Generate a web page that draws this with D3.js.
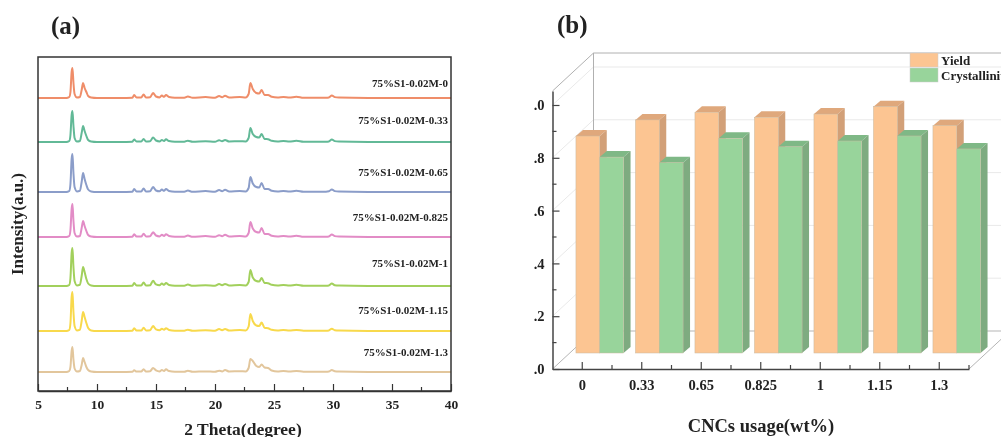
<!DOCTYPE html>
<html lang="en">
  <head>
    <meta charset="UTF-8" />
    <title>XRD and yield</title>
    <script src="https://d3js.org/d3.v7.min.js"></script>
    <style>
      html, body { margin: 0; padding: 0; background: #fff; }
      svg { display: block; filter: blur(0.35px); }
      text { font-family: "Liberation Serif", serif; font-weight: bold; fill: #222; }
    </style>
  </head>
  <body>
    <svg id="svg" width="1001" height="437"></svg>
    <script>
      // panel (a): XRD patterns, one intensity row per sample on a shared 2 theta grid
      const twoTheta = [
        5, 7.4, 7.65, 7.75, 7.85, 7.92, 8, 8.1, 8.3, 8.55,
        8.7, 8.82, 8.95, 9.1, 9.25, 9.5, 10, 12, 13, 13.15,
        13.35, 13.75, 13.95, 14.15, 14.5, 14.75, 15, 15.3, 15.5, 15.68,
        15.85, 16.1, 16.6, 17.4, 17.7, 18.1, 19.2, 20, 20.35, 20.6,
        20.85, 21.2, 22.1, 22.6, 22.85, 23, 23.2, 23.5, 23.75, 23.95,
        24.2, 24.5, 24.8, 25.3, 25.8, 26.3, 26.9, 27.5, 29.4, 29.65,
        29.9, 30.15, 30.5, 33, 40
      ];
      const samples = [
        "75%S1-0.02M-0", "75%S1-0.02M-0.33", "75%S1-0.02M-0.65", "75%S1-0.02M-0.825",
        "75%S1-0.02M-1", "75%S1-0.02M-1.15", "75%S1-0.02M-1.3"
      ];
      const sampleColors = ["#ef8d69", "#62b997", "#8b9dc9", "#e28cc6", "#a2d05c", "#f8d94c", "#e2c69c"];
      // stacking baseline of each pattern
      const baselines = [293, 249, 199, 154, 105, 60, 19];
      // label height above its own baseline
      const labelGaps = [15, 22, 20, 20, 23, 21, 20];

      const xrd0 = [
        0, 0, 1, 6, 26, 30, 16, 4, 0.5, 1,
        8, 15, 10, 6, 2, 0.5, 0, 0, 0.3, 3,
        0.5, 0.5, 3.5, 0.6, 0.8, 5, 1.5, 0.6, 2.5, 1.2,
        3, 1, 0.3, 0.3, 1.5, 0.2, 1, 0.2, 2, 0.8,
        2.2, 0.5, 1, 0.6, 4, 15, 9, 5, 4.5, 8,
        3, 3, 1.2, 0.5, 1, 0.4, 1.3, 0.2, 0.3, 0.6,
        2.5, 0.9, 0.4, 0.1, 0
      ];
      const xrd033 = [
        0, 0, 1, 7, 27, 31, 17, 4, 0.5, 1,
        9, 16, 11, 6, 2, 0.5, 0, 0, 0.3, 2.5,
        0.5, 0.5, 3, 0.6, 0.8, 4.5, 1.5, 0.6, 2, 1,
        2.8, 0.9, 0.3, 0.3, 1.3, 0.2, 0.8, 0.2, 1.8, 0.7,
        2, 0.5, 0.8, 0.6, 4, 14, 8, 5, 4.5, 8,
        3, 2.8, 1.2, 0.5, 0.9, 0.4, 1.2, 0.2, 0.3, 0.6,
        2.5, 0.9, 0.4, 0.1, 0
      ];
      const xrd065 = [
        0, 0, 1, 8, 33, 38, 20, 5, 0.6, 1.2,
        10, 19, 13, 7, 2.5, 0.6, 0, 0, 0.3, 3,
        0.5, 0.5, 3.5, 0.6, 0.8, 5, 1.5, 0.7, 2.5, 1.2,
        3, 1, 0.3, 0.3, 1.4, 0.2, 0.9, 0.2, 2, 0.8,
        2.2, 0.5, 0.9, 0.6, 4, 15, 8.5, 5, 4.5, 9,
        3, 3, 1.2, 0.5, 1, 0.4, 1.2, 0.2, 0.3, 0.7,
        2.6, 0.9, 0.4, 0.1, 0
      ];
      const xrd0825 = [
        0, 0, 1, 7, 28, 33, 17, 4, 0.5, 1,
        9, 16, 11, 6, 2, 0.5, 0, 0, 0.3, 2.8,
        0.5, 0.5, 3.2, 0.6, 0.8, 4.8, 1.5, 0.6, 2.2, 1.1,
        2.8, 1, 0.3, 0.3, 1.4, 0.2, 0.9, 0.2, 1.8, 0.8,
        2.2, 0.5, 1, 0.6, 4, 15, 8.5, 5, 4.5, 9,
        3, 3, 1.2, 0.5, 1, 0.4, 1.3, 0.2, 0.3, 0.6,
        2.5, 0.9, 0.4, 0.1, 0
      ];
      const xrd1 = [
        0, 0, 1, 8, 33, 38, 20, 5, 0.6, 1.2,
        10, 19, 14, 7, 2.5, 0.6, 0, 0, 0.3, 3,
        0.5, 0.5, 3.5, 0.6, 0.8, 5.2, 1.6, 0.7, 2.5, 1.2,
        3, 1, 0.3, 0.3, 1.4, 0.2, 0.8, 0.2, 1.9, 0.8,
        2.1, 0.5, 0.9, 0.6, 4, 16, 8.5, 5, 4.5, 8,
        3, 2.8, 1.2, 0.5, 0.9, 0.4, 1.2, 0.2, 0.3, 0.6,
        2.4, 0.8, 0.4, 0.1, 0
      ];
      const xrd115 = [
        0, 0, 1, 8, 34, 39, 20, 5, 0.6, 1.2,
        10, 19, 14, 8, 3, 0.6, 0, 0, 0.3, 2.8,
        0.5, 0.5, 3.2, 0.6, 0.8, 5, 1.6, 0.7, 2.3, 1.2,
        2.8, 1, 0.3, 0.3, 1.3, 0.2, 0.8, 0.2, 1.9, 0.8,
        2, 0.5, 0.9, 0.6, 4.5, 17, 10, 5.5, 5, 8.5,
        3.2, 2.8, 1.2, 0.5, 0.9, 0.4, 1.1, 0.2, 0.3, 0.6,
        2.3, 0.8, 0.4, 0.1, 0
      ];
      const xrd13 = [
        0, 0, 1, 5, 21, 25, 13, 3.5, 0.5, 1,
        7, 14, 10, 5, 2, 0.5, 0, 0, 0.2, 1.8,
        0.4, 0.5, 2.8, 0.6, 0.8, 4, 1.6, 0.6, 2, 1,
        2.8, 0.9, 0.3, 0.3, 1.2, 0.2, 0.6, 0.2, 1.3, 0.6,
        2, 0.5, 0.8, 0.6, 4, 13, 11, 6, 5, 7.5,
        4.5, 4, 1.5, 0.5, 0.9, 0.4, 1.1, 0.2, 0.3, 0.5,
        2, 0.7, 0.4, 0.1, 0
      ];
      const xrdRows = [xrd0, xrd033, xrd065, xrd0825, xrd1, xrd115, xrd13];
      const thetaTicks = [5, 10, 15, 20, 25, 30, 35, 40];
      const thetaMinor = [7.5, 12.5, 17.5, 22.5, 27.5, 32.5, 37.5];

      // panel (b): yield and crystallinity
      const usage = ["0", "0.33", "0.65", "0.825", "1", "1.15", "1.3"];
      const series = ["Yield", "Crystallinity"];
      const yieldValues = [0.822, 0.883, 0.912, 0.893, 0.905, 0.933, 0.861];
      const crystValues = [0.742, 0.721, 0.813, 0.781, 0.803, 0.822, 0.773];
      const fracTicks = [0, 0.2, 0.4, 0.6, 0.8, 1];
      const fracMinor = [0.1, 0.3, 0.5, 0.7, 0.9];
      // the left edge of the source image cuts the leading digit off
      const fracLabels = [".0", ".2", ".4", ".6", ".8", ".0"];

      const svg = d3.select("#svg");

      /* ---------- (a) ---------- */
      const ax = d3.scaleLinear().domain([5, 40]).range([38, 451]);
      const ay = d3.scaleLinear().domain([0, 334]).range([391, 57]);
      const ga = svg.append("g");

      samples.forEach((name, i) => {
        const line = d3
          .line()
          .x(d => ax(d))
          .y((d, k) => ay(baselines[i] + xrdRows[i][k]))
          .curve(d3.curveMonotoneX);
        ga.append("path")
          .attr("d", line(twoTheta))
          .attr("fill", "none")
          .attr("stroke", sampleColors[i])
          .attr("stroke-width", 2);
        ga.append("text")
          .attr("x", 448)
          .attr("y", ay(baselines[i] + labelGaps[i]))
          .attr("dy", "0.35em")
          .attr("text-anchor", "end")
          .style("font-size", "11px")
          .text(name);
      });

      ga.append("rect")
        .attr("x", 38)
        .attr("y", 57)
        .attr("width", 413)
        .attr("height", 334)
        .attr("fill", "none")
        .attr("stroke", "#333")
        .attr("stroke-width", 1.5);

      const aAxis = ga
        .append("g")
        .attr("transform", "translate(0,391)")
        .call(d3.axisBottom(ax).tickValues(thetaTicks).tickSizeInner(-7).tickSizeOuter(0).tickPadding(8).tickFormat(d3.format("d")));
      aAxis.select(".domain").attr("stroke", "#333").attr("stroke-width", 1.5);
      aAxis.selectAll("line").attr("stroke", "#333").attr("stroke-width", 1.2);
      aAxis.selectAll("text").style("font-size", "13.5px").style("font-family", '"Liberation Serif", serif').attr("fill", "#222");
      ga.selectAll(".minor")
        .data(thetaMinor)
        .enter()
        .append("line")
        .attr("x1", d => ax(d))
        .attr("x2", d => ax(d))
        .attr("y1", 391)
        .attr("y2", 387)
        .attr("stroke", "#333")
        .attr("stroke-width", 1.2);

      svg.append("text").attr("x", 51).attr("y", 34).style("font-size", "25px").text("(a)");
      svg.append("text").attr("x", 243).attr("y", 435).attr("text-anchor", "middle").style("font-size", "17.5px").text("2 Theta(degree)");
      svg.append("text")
        .attr("transform", "translate(23,224) rotate(-90)")
        .attr("text-anchor", "middle")
        .style("font-size", "17px")
        .text("Intensity(a.u.)");

      /* ---------- (b) ---------- */
      const depthX = 41;
      const depthY = 38;
      const barShiftX = 17.5;
      const barShiftY = 16;
      const barDx = 7;
      const barDy = 6;

      const bx = d3.scaleBand().domain(usage).range([552.5, 969]).paddingInner(0.2).paddingOuter(0.1);
      const bInner = d3.scaleBand().domain(series).range([0, bx.bandwidth()]);
      const by = d3.scaleLinear().domain([0, 1.053]).range([369, 91]);
      const gb = svg.append("g");

      // side wall and back wall grid
      gb.selectAll(".wall")
        .data(fracTicks.slice(1))
        .enter()
        .append("path")
        .attr("d", d => `M${bx.range()[0]},${by(d)} L${bx.range()[0] + depthX},${by(d) - depthY} H1001`)
        .attr("fill", "none")
        .attr("stroke", "#e9e9e9")
        .attr("stroke-width", 1);
      gb.append("path")
        .attr("d", `M${bx.range()[0]},${by(0)} L${bx.range()[0] + depthX},${by(0) - depthY} H1001 M${bx.range()[1]},${by(0)} L${bx.range()[1] + depthX},${by(0) - depthY}`)
        .attr("fill", "none")
        .attr("stroke", "#b5b5b5")
        .attr("stroke-width", 1);
      gb.append("path")
        .attr("d", `M${bx.range()[0]},${by.range()[1]} L${bx.range()[0] + depthX},${by.range()[1] - depthY} H1001 M${bx.range()[0] + depthX},${by.range()[1] - depthY} V${by(0) - depthY}`)
        .attr("fill", "none")
        .attr("stroke", "#b0b0b0")
        .attr("stroke-width", 1);

      const faces = {
        Yield: { front: "#fcc592", top: "#dfa87c", side: "#d2a078" },
        Crystallinity: { front: "#98d49b", top: "#7fb886", side: "#7eab80" }
      };
      const valuesBySeries = { Yield: yieldValues, Crystallinity: crystValues };

      usage.forEach((u, i) => {
        series.forEach(s => {
          const x0 = bx(u) + bInner(s) + barShiftX;
          const x1 = x0 + bInner.bandwidth();
          const yb = by(0) - barShiftY;
          const yt = by(valuesBySeries[s][i]) - barShiftY;
          const bar = gb.append("g");
          bar.append("path")
            .attr("d", `M${x0},${yt} L${x0 + barDx},${yt - barDy} H${x1 + barDx} L${x1},${yt} Z`)
            .attr("fill", faces[s].top);
          bar.append("path")
            .attr("d", `M${x1},${yt} L${x1 + barDx},${yt - barDy} V${yb - barDy} L${x1},${yb} Z`)
            .attr("fill", faces[s].side);
          bar.append("rect")
            .attr("x", x0)
            .attr("y", yt)
            .attr("width", bInner.bandwidth())
            .attr("height", yb - yt)
            .attr("fill", faces[s].front)
            .attr("stroke", "#c9b9a0")
            .attr("stroke-width", 0.5);
        });
      });

      const xAxisB = gb
        .append("g")
        .attr("transform", `translate(0,${by(0)})`)
        .call(d3.axisBottom(bx).tickSizeInner(-7).tickSizeOuter(0).tickPadding(11));
      xAxisB.select(".domain").attr("stroke", "#444").attr("stroke-width", 1.5);
      xAxisB.selectAll("line").attr("stroke", "#444").attr("stroke-width", 1.2);
      xAxisB.selectAll("text").style("font-size", "14.5px").style("font-family", '"Liberation Serif", serif').attr("fill", "#222");

      const yAxisB = gb
        .append("g")
        .attr("transform", `translate(${bx.range()[0]},0)`)
        .call(d3.axisLeft(by).tickValues(fracTicks).tickSizeInner(-7).tickSizeOuter(0).tickPadding(8).tickFormat((d, i) => fracLabels[i]));
      yAxisB.select(".domain").attr("stroke", "#444").attr("stroke-width", 1.5);
      yAxisB.selectAll("line").attr("stroke", "#444").attr("stroke-width", 1.2);
      yAxisB.selectAll("text").style("font-size", "14.5px").style("font-family", '"Liberation Serif", serif').attr("fill", "#222");

      gb.selectAll(".ym")
        .data(fracMinor)
        .enter()
        .append("line")
        .attr("x1", bx.range()[0])
        .attr("x2", bx.range()[0] + 4)
        .attr("y1", d => by(d))
        .attr("y2", d => by(d))
        .attr("stroke", "#444")
        .attr("stroke-width", 1.2);
      gb.selectAll(".xm")
        .data(usage)
        .enter()
        .append("line")
        .attr("x1", d => bx(d) + bx.bandwidth() / 2 + bx.step() / 2)
        .attr("x2", d => bx(d) + bx.bandwidth() / 2 + bx.step() / 2)
        .attr("y1", by(0))
        .attr("y2", by(0) - 4)
        .attr("stroke", "#444")
        .attr("stroke-width", 1.2);

      // legend
      series.forEach((s, i) => {
        gb.append("rect")
          .attr("x", 910)
          .attr("y", 53 + i * 15)
          .attr("width", 28)
          .attr("height", 14)
          .attr("fill", faces[s].front)
          .attr("stroke", "#ccc")
          .attr("stroke-width", 0.5);
        gb.append("text")
          .attr("x", 941)
          .attr("y", 60 + i * 15.5)
          .attr("dy", "0.35em")
          .style("font-size", "13px")
          .text(s);
      });

      svg.append("text").attr("x", 557).attr("y", 33).style("font-size", "25px").text("(b)");
      svg.append("text").attr("x", 761).attr("y", 432).attr("text-anchor", "middle").style("font-size", "18.5px").text("CNCs usage(wt%)");
    </script>
  </body>
</html>
